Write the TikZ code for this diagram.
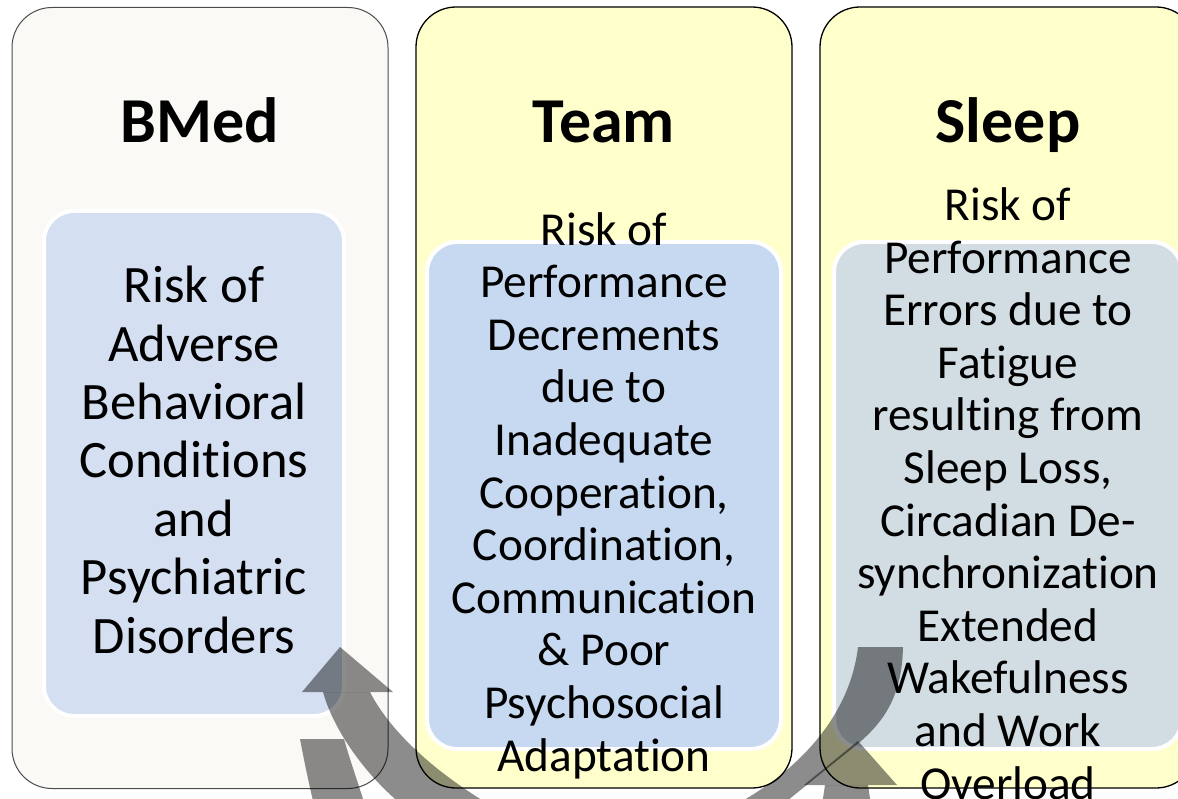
\documentclass[tikz,border=0pt]{standalone}
\usepackage{fontspec}
\setmainfont{Carlito}[Ligatures=NoCommon]
\definecolor{bmedfill}{HTML}{FAF9F5}
\definecolor{yel}{HTML}{FFFFCC}
\definecolor{bluea}{HTML}{D4DFF1}
\definecolor{blueb}{HTML}{C6D9F0}
\definecolor{bluec}{HTML}{D2DDE3}
\begin{document}
\begin{tikzpicture}[x=1pt,y=-1pt,
  outerbox/.style={draw, rectangle, rounded corners=40pt, line width=1.3pt, minimum width=376pt, minimum height=781pt, inner sep=0pt},
  innerbox/.style={draw=white, rectangle, rounded corners=30pt, line width=4pt, inner sep=0pt},
  titletext/.style={font=\bfseries\fontsize{64}{70}\selectfont, anchor=base, inner sep=0pt},
  bodytext/.style={align=center, anchor=base, inner sep=0pt},
  arrowpart/.style={fill=black, fill opacity=0.45}]
\useasboundingbox (0,0) rectangle (1178,799);
\clip (0,0) rectangle (1178,799);
% outer boxes
\node[outerbox, draw=black!70, line width=1pt, fill=bmedfill] (bmedbox) at (200,398) {};
\node[outerbox, fill=yel] (teambox) at (604,397.5) {};
\node[outerbox, fill=yel] (sleepbox) at (1008,397.5) {};
% inner boxes
\node[innerbox, fill=bluea, minimum width=300pt, minimum height=505pt] (bmedinner) at (194,463.5) {};
\node[innerbox, fill=blueb, minimum width=354pt, minimum height=507pt] (teaminner) at (604,495.5) {};
\node[innerbox, fill=bluec, minimum width=348pt, minimum height=507pt] (sleepinner) at (1008,495.5) {};
% titles
\node[titletext] (bmedtitle) at (200,143) {BMed};
\node[titletext] (teamtitle) at (604,143) {Team};
\node[titletext] (sleeptitle) at (1008,143) {Sleep};
% body texts (anchor base = baseline of last line)
\node[bodytext, font=\fontsize{52.6}{58.4}\selectfont] (bmedtext) at (194,653)
  {Risk of\\Adverse\\Behavioral\\Conditions\\and\\Psychiatric\\Disorders};
\node[bodytext, font=\fontsize{47.3}{52.6}\selectfont] (teamtext) at (604,771)
  {Risk of\\Performance\\Decrements\\due to\\Inadequate\\Cooperation,\\Coordination,\\Communication\\\& Poor\\Psychosocial\\Adaptation};
\node[bodytext, font=\fontsize{47.3}{52.6}\selectfont] (sleeptext) at (1008,799)
  {Risk of\\Performance\\Errors due to\\Fatigue\\resulting from\\Sleep Loss,\\Circadian De-\\synchronization\\Extended\\Wakefulness\\and Work\\Overload};
% circular arrow fragments
\fill[arrowpart] (323,692) .. controls (332,725) and (360,770) .. (402,805) -- (490,805) .. controls (440,775) and (392,735) .. (370,692) -- cycle;
\fill[arrowpart] (302,692) -- (340,647) -- (393,692) -- cycle;
\fill[arrowpart] (300,739) .. controls (304,760) and (308,780) .. (314,805) -- (365,805) .. controls (357,780) and (350,760) .. (344,739) -- cycle;
\fill[arrowpart] (858,647) -- (903,647) .. controls (902,695) and (885,720) .. (860,742) -- (782,805) -- (735,805) .. controls (800,770) and (850,715) .. (858,647) -- cycle;
\fill[arrowpart] (804,785) -- (858,741) -- (897,785) -- cycle;
\fill[arrowpart] (825,785) -- (868,785) -- (871,805) -- (822,805) -- cycle;
\end{tikzpicture}
\end{document}
